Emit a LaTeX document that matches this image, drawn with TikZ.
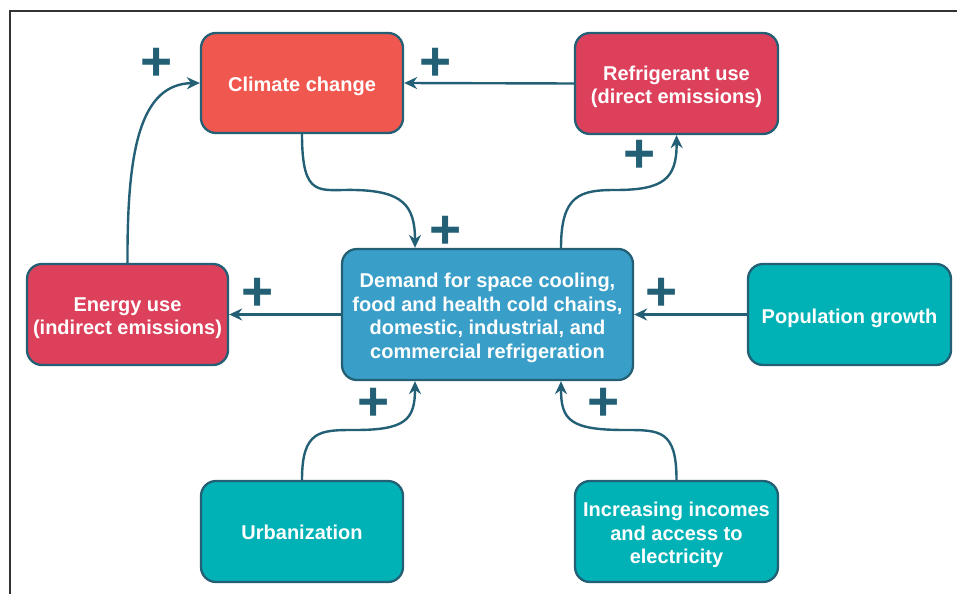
\documentclass[tikz,border=0pt]{standalone}
\usepackage{fontspec}
\setmainfont{Liberation Sans}
\usetikzlibrary{arrows.meta}
\definecolor{edgec}{HTML}{235F75}
\definecolor{climc}{HTML}{F0574E}
\definecolor{crimc}{HTML}{DC405A}
\definecolor{bluec}{HTML}{3A9FC8}
\definecolor{tealc}{HTML}{00B1B5}
\definecolor{framec}{HTML}{333333}
\tikzset{
  box/.style={draw=edgec, line width=2.3pt, rounded corners=15pt, inner sep=0pt},
  txt/.style={text=white, font=\fontsize{20}{23.5}\selectfont\bfseries, align=center, inner sep=0pt},
  conn/.style={draw=edgec, line width=2.4pt, -{Stealth[length=13pt,width=12pt]}},
  plus/.style={text=edgec, font=\fontsize{55}{55}\selectfont\bfseries, inner sep=0pt}
}
\begin{document}
\begin{tikzpicture}[x=1pt,y=-1pt]
\useasboundingbox (0,0) rectangle (957,594);
\draw[framec, line width=1.5pt] (10,594) -- (10,11) -- (957,11);
% nodes
\node[box, fill=climc, minimum width=202pt, minimum height=100pt] (clim) at (302,83) {};
\node[box, fill=crimc, minimum width=203pt, minimum height=101pt] (refr) at (676.5,83.5) {};
\node[box, fill=crimc, minimum width=201pt, minimum height=101pt] (ener) at (127.5,314.5) {};
\node[box, fill=bluec, minimum width=291pt, minimum height=131pt] (dem) at (487.5,314.5) {};
\node[box, fill=tealc, minimum width=203pt, minimum height=101pt] (pop) at (849.5,314.5) {};
\node[box, fill=tealc, minimum width=202pt, minimum height=101pt] (urb) at (302,531.5) {};
\node[box, fill=tealc, minimum width=203pt, minimum height=101pt] (inc) at (676.5,531.5) {};
% texts
\node[txt] (clim-t) at ([yshift=-3.5pt]clim.center) {Climate change};
\node[txt] (refr-t) at ([yshift=-3.5pt]refr.center) {Refrigerant use\\(direct emissions)};
\node[txt] (ener-t) at ([yshift=-3.5pt]ener.center) {Energy use\\(indirect emissions)};
\node[txt] (dem-t) at ([yshift=-3.5pt]dem.center) {Demand for space cooling,\\food and health cold chains,\\domestic, industrial, and\\commercial refrigeration};
\node[txt] (pop-t) at ([yshift=-3.5pt]pop.center) {Population growth};
\node[txt] (urb-t) at ([yshift=-1pt]urb.center) {Urbanization};
\node[txt] (inc-t) at ([yshift=-3.5pt]inc.center) {Increasing incomes\\and access to\\electricity};
% connectors
\draw[conn] (refr.west) -- (clim.east);
\draw[conn] (ener.north) .. controls (127,150) and (140,84) .. (clim.west);
\draw[conn] (clim.south) .. controls (302,200) and (320,189) .. (355,190) .. controls (402,191) and (415,205) .. ([xshift=-72.5pt]dem.north);
\draw[conn] ([xshift=73.5pt]dem.north) .. controls (561,195) and (580,190) .. (615,190) .. controls (662,190) and (677,180) .. (refr.south);
\draw[conn] (dem.west) -- (ener.east);
\draw[conn] (pop.west) -- (dem.east);
\draw[conn] (urb.north) .. controls (302,430) and (320,430) .. (355,430) .. controls (405,430) and (415,420) .. ([xshift=-72.5pt]dem.south);
\draw[conn] (inc.north) .. controls (676.5,430) and (660,430) .. (625,430) .. controls (570,430) and (561,420) .. ([xshift=73.5pt]dem.south);
% signs
\node[plus] (p1) at (157,64) {+};
\node[plus] (p2) at (436,64) {+};
\node[plus] (p3) at (446,232) {+};
\node[plus] (p4) at (640,156) {+};
\node[plus] (p5) at (257.5,294) {+};
\node[plus] (p6) at (662,294) {+};
\node[plus] (p7) at (374,404) {+};
\node[plus] (p8) at (604,404) {+};
\end{tikzpicture}
\end{document}
